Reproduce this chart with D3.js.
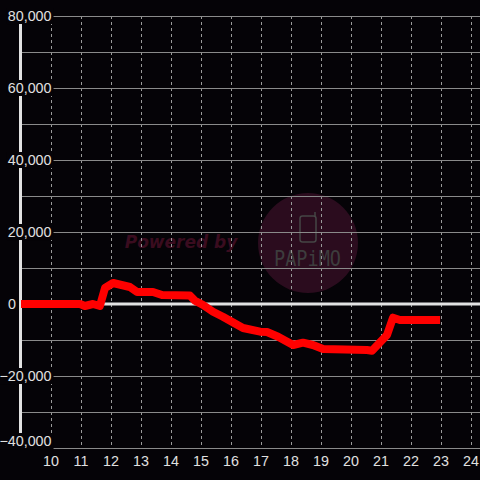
<!DOCTYPE html>
<html><head><meta charset="utf-8">
<script src="https://cdn.jsdelivr.net/npm/d3@7"></script>
<style>html,body{margin:0;padding:0;background:#050307;}svg{display:block;}</style>
</head><body><svg id="c" width="480" height="480"></svg>
<script>
const hours = [9.0, 10.97, 11.13, 11.4, 11.63, 11.8, 12.07, 12.63, 12.87, 13.4, 13.7, 14.63, 14.8, 15.07, 15.4, 15.73, 16.4, 16.97, 17.2, 17.57, 18.07, 18.4, 18.73, 19.07, 20.53, 20.7, 21.2, 21.4, 21.63, 22.97];
const values = [0, 0, -556, 0, -556, 4444, 5833, 4722, 3333, 3333, 2500, 2361, 917, -278, -2139, -3528, -6667, -7694, -7778, -9083, -11389, -10750, -11389, -12500, -12778, -12972, -8611, -3806, -4444, -4444];
const xTicks = [10,11,12,13,14,15,16,17,18,19,20,21,22,23,24];
const yTicks = [80000,60000,40000,20000,0,-20000,-40000];
const yGrid = [80000,70000,60000,50000,40000,30000,20000,10000,0,-10000,-20000,-30000,-40000];

const svg = d3.select("#c");
const x = d3.scaleLinear().domain([9, 24.3]).range([21, 480]);
const y = d3.scaleLinear().domain([-40000, 80000]).range([448, 16]);
const fmt = d3.format(",");

svg.append("rect").attr("width",480).attr("height",480).attr("fill","#050307");

// watermark (behind grid)
const wm = svg.append("g");
wm.append("circle").attr("cx",308).attr("cy",243).attr("r",50).attr("fill","#2b0c1e");
wm.append("rect").attr("x",300).attr("y",216).attr("width",16).attr("height",26).attr("rx",2.5)
  .attr("fill","none").attr("stroke","#454545").attr("stroke-width",1.5);
wm.append("line").attr("x1",315).attr("x2",315).attr("y1",216).attr("y2",212).attr("stroke","#454545").attr("stroke-width",1.5);
wm.append("text").attr("x",274).attr("y",266)
  .attr("font-family","DejaVu Sans Mono, monospace").attr("font-size",21).attr("fill","#3d3d3d")
  .attr("textLength",67).attr("lengthAdjust","spacingAndGlyphs").text("PAPiMO");
wm.append("text").attr("x",181).attr("y",248).attr("text-anchor","middle")
  .attr("font-family","DejaVu Sans, sans-serif").attr("font-weight","bold").attr("font-style","italic")
  .attr("font-size",17).attr("fill","#3a0c1f").text("Powered by");

// vertical dashed grid
svg.append("g").selectAll("line").data(xTicks).join("line")
  .attr("x1", d=>Math.round(x(d))+0.5).attr("x2", d=>Math.round(x(d))+0.5)
  .attr("y1", 16).attr("y2", 448)
  .attr("stroke","#9a9a9a").attr("stroke-width",1).attr("stroke-dasharray","3,3");

// horizontal grid
svg.append("g").selectAll("line").data(yGrid.filter(d=>d!==0)).join("line")
  .attr("x1", 21).attr("x2", 480)
  .attr("y1", d=>Math.round(y(d))+0.5).attr("y2", d=>Math.round(y(d))+0.5)
  .attr("stroke","#8a8a8a").attr("stroke-width",1);

// zero line
svg.append("line").attr("x1",21).attr("x2",480).attr("y1",y(0)).attr("y2",y(0))
  .attr("stroke","#e2e2e2").attr("stroke-width",3);

// y axis line
svg.append("line").attr("x1",20.5).attr("x2",20.5).attr("y1",16).attr("y2",448)
  .attr("stroke","#e2e2e2").attr("stroke-width",3);

// y labels with background
const yl = svg.append("g");
yTicks.forEach(v=>{
  let py = y(v);
  if (v === -40000) py = 441;
  const ax = v === 0 ? 16 : 51.5;
  const g = yl.append("g");
  const t = g.append("text").attr("x",ax).attr("y",py).attr("dy","0.35em").attr("text-anchor","end")
    .attr("font-family","Liberation Sans, Arial, sans-serif").attr("font-size",14.3).attr("fill","#e0e0e0").text(fmt(v));
  if (v !== 0) {
    const b = t.node().getBBox();
    g.insert("rect","text").attr("x",b.x-1).attr("y",b.y).attr("width",b.width+3).attr("height",b.height).attr("fill","#050307");
  }
});

// data line
const line = d3.line().x((d,i)=>x(hours[i])).y(d=>y(d));
svg.append("path").datum(values).attr("d", line)
  .attr("fill","none").attr("stroke","#ff0000").attr("stroke-width",8)
  .attr("stroke-linejoin","round").attr("stroke-linecap","butt");

// x labels
svg.append("g").selectAll("text").data(xTicks).join("text")
  .attr("x", d=>x(d)).attr("y", 461).attr("dy","0.35em").attr("text-anchor","middle")
  .attr("font-family","Liberation Sans, Arial, sans-serif").attr("font-size",14.3).attr("fill","#e0e0e0")
  .text(d=>d);
</script></body></html>
